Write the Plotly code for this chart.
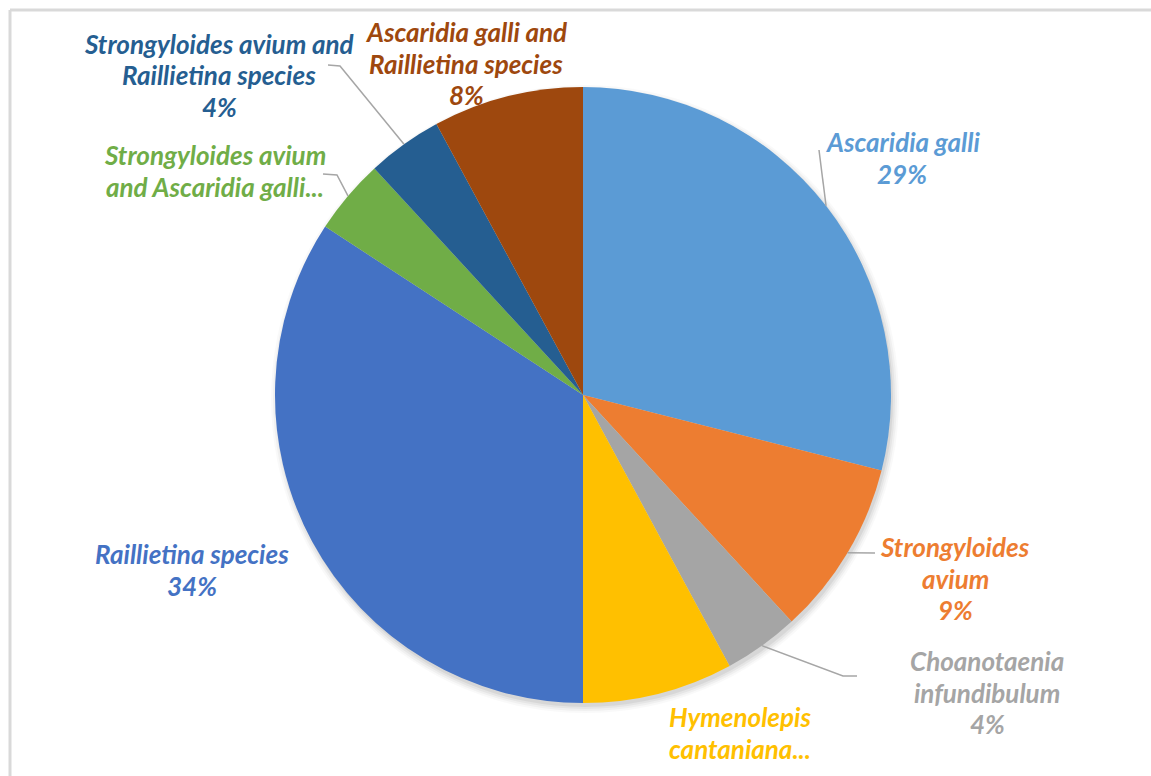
import math
import plotly.graph_objects as go

# ---- data ----
labels = ["Ascaridia galli", "Strongyloides avium", "Choanotaenia infundibulum",
          "Hymenolepis cantaniana", "Raillietina species",
          "Strongyloides avium and Ascaridia galli",
          "Strongyloides avium and Raillietina species",
          "Ascaridia galli and Raillietina species"]
counts = [22, 7, 3, 6, 26, 3, 3, 6]
colors = ["#5B9BD5", "#ED7D31", "#A5A5A5", "#FFC000", "#4472C4",
          "#70AD47", "#255E91", "#9E480E"]
# displayed label lines (as truncated in the original)
label_lines = [["Ascaridia galli"],
               ["Strongyloides", "avium"],
               ["Choanotaenia", "infundibulum"],
               ["Hymenolepis", "cantaniana..."],
               ["Raillietina species"],
               ["Strongyloides avium", "and Ascaridia galli..."],
               ["Strongyloides avium and", "Raillietina species"],
               ["Ascaridia galli and", "Raillietina species"]]
show_pct = [True, True, True, False, True, False, True, True]

# ---- layout (pixels) ----
W, H = 1151, 776
CX, CY, R = 583, 395, 308
label_top = [(902, 142), (955, 547), (987, 661), (740, 717), (192, 554),
             (215, 155), (219, 44), (466, 32)]
line_gap = 31.5
# leader anchors: list of points from label side (None = no leader)
leader_ends = [[(819, 150)], [(875, 553)], [(857, 676), (843, 676)], None, None,
               [(323, 174), (337, 175)], [(328, 65), (340, 66)], None]

total = sum(counts)
pcts = [round(100 * c / total) for c in counts]


def px(x):
    return x / W


def py(y):
    return 1 - y / H


fig = go.Figure(go.Pie(
    labels=labels, values=counts, sort=False, direction="clockwise", rotation=0,
    marker=dict(colors=colors, line=dict(width=0)),
    textinfo="none", hoverinfo="label+percent", showlegend=False,
    domain=dict(x=[px(CX - R), px(CX + R)], y=[py(CY + R), py(CY - R)]),
))

annotations = []
shapes = []

# soft shadow under the pie
for dr, a in [(6, 0.025), (4, 0.035), (2, 0.045), (0, 0.06)]:
    shapes.append(dict(type="circle", xref="paper", yref="paper", layer="below",
                       x0=px(CX + 2 - R - dr), x1=px(CX + 2 + R + dr),
                       y0=py(CY + 4 + R + dr), y1=py(CY + 4 - R - dr),
                       fillcolor=f"rgba(0,0,0,{a})", line=dict(width=0)))

cum = 0
for i, c in enumerate(counts):
    mid = (cum + c / 2) / total
    cum += c
    ang = 2 * math.pi * mid
    ex = CX + R * math.sin(ang)
    ey = CY - R * math.cos(ang)
    lines = list(label_lines[i])
    if show_pct[i]:
        lines.append(f"{pcts[i]}%")
    x0, y0 = label_top[i]
    for k, t in enumerate(lines):
        annotations.append(dict(
            x=px(x0), y=py(y0 + k * line_gap), xref="paper", yref="paper",
            text=t, showarrow=False, xanchor="center", yanchor="middle",
            font=dict(family="Lato", size=26, color=colors[i],
                      weight="bold", style="italic")))
    if leader_ends[i]:
        pts = leader_ends[i] + [(ex, ey)]
        path = "M " + " L ".join(f"{px(a)},{py(b)}" for a, b in pts)
        shapes.append(dict(type="path", xref="paper", yref="paper", path=path,
                           line=dict(color="#A6A6A6", width=1.5)))

# chart frame edges (top and left visible)
shapes.append(dict(type="line", xref="paper", yref="paper", x0=px(10), x1=1,
                   y0=py(10), y1=py(10), line=dict(color="#D9D9D9", width=3)))
shapes.append(dict(type="line", xref="paper", yref="paper", x0=px(10), x1=px(10),
                   y0=py(10), y1=0, line=dict(color="#D9D9D9", width=3)))

fig.update_layout(width=W, height=H, margin=dict(l=0, r=0, t=0, b=0),
                  paper_bgcolor="white", plot_bgcolor="white",
                  annotations=annotations, shapes=shapes)
fig.write_html("out.html")
